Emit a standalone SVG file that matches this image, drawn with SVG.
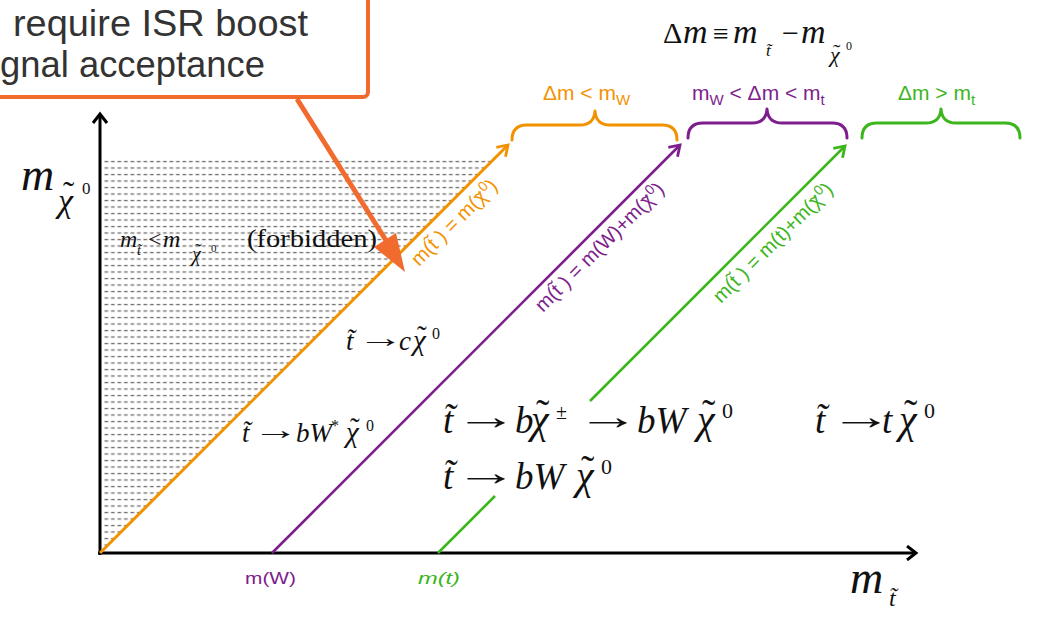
<svg xmlns="http://www.w3.org/2000/svg" width="1039" height="626" viewBox="0 0 1039 626">
<style>
.m{font-family:"Liberation Serif","DejaVu Serif",serif;font-style:italic;fill:#111}
.u{font-family:"Liberation Serif","DejaVu Serif",serif;font-style:normal;fill:#111}
.s{font-family:"Liberation Sans",Arial,sans-serif}
.or{fill:#F39200}.pu{fill:#7D1E8C}.gr{fill:#3DB51C}
.brace{fill:none;stroke-width:3;stroke-linecap:round;stroke-linejoin:round}
</style>
<defs>
<pattern id="hatch" width="6.5" height="6.5" patternUnits="userSpaceOnUse" x="0" y="160">
<line x1="0.5" y1="1.5" x2="4.2" y2="1.5" stroke="#6a6a6a" stroke-width="1.3"/>
</pattern>
<marker id="ak" markerWidth="16" markerHeight="16" refX="12" refY="8" orient="auto" markerUnits="userSpaceOnUse"><path d="M3,1 L12,8 L3,15" fill="none" stroke="#000" stroke-width="3"/></marker>
<marker id="ao" markerWidth="16" markerHeight="16" refX="12" refY="8" orient="auto" markerUnits="userSpaceOnUse"><path d="M2,1.5 L12,8 L2,14.5" fill="none" stroke="#F39200" stroke-width="2.8"/></marker>
<marker id="ap" markerWidth="16" markerHeight="16" refX="12" refY="8" orient="auto" markerUnits="userSpaceOnUse"><path d="M2,1.5 L12,8 L2,14.5" fill="none" stroke="#7D1E8C" stroke-width="2.8"/></marker>
<marker id="ag" markerWidth="16" markerHeight="16" refX="12" refY="8" orient="auto" markerUnits="userSpaceOnUse"><path d="M2,1.5 L12,8 L2,14.5" fill="none" stroke="#3DB51C" stroke-width="2.8"/></marker>
</defs>
<rect width="1039" height="626" fill="#fff"/>

<g id="forbidden-region">
<polygon points="104,159 494,159 104,549" fill="url(#hatch)"/>
</g>

<g id="connectors">
<line x1="100" y1="555" x2="100" y2="114" stroke="#000" stroke-width="3" marker-end="url(#ak)"/>
<line x1="98" y1="553" x2="916" y2="553" stroke="#000" stroke-width="3" marker-end="url(#ak)"/>
<line x1="100" y1="553" x2="508" y2="145" stroke="#F39200" stroke-width="3" marker-end="url(#ao)"/>
<line x1="272" y1="553" x2="680" y2="145" stroke="#7D1E8C" stroke-width="2.6" marker-end="url(#ap)"/>
<line x1="438" y1="553" x2="495" y2="496" stroke="#3DB51C" stroke-width="2.6"/>
<line x1="590" y1="401" x2="845" y2="146" stroke="#3DB51C" stroke-width="2.6" marker-end="url(#ag)"/>
</g>

<g id="y-label">
<text class="m" font-size="46"><tspan x="21" y="190">m</tspan><tspan x="58" y="212" font-size="34">χ</tspan><tspan class="u" x="63" y="205" font-size="34">˜</tspan><tspan class="u" x="82" y="194" font-size="17">0</tspan></text>
</g>

<g id="x-label">
<text class="m" font-size="46"><tspan x="850" y="593">m</tspan><tspan x="889" y="606" font-size="24">t̃</tspan></text>
</g>

<g id="forbidden-label">
<text class="m" font-size="24"><tspan x="120" y="247">m</tspan><tspan x="137" y="255" font-size="14">t̃</tspan><tspan class="u" x="148" y="247">&lt;</tspan><tspan x="163" y="247">m</tspan><tspan x="192" y="261" font-size="20">χ</tspan><tspan class="u" x="195" y="258" font-size="20">˜</tspan><tspan class="u" x="211" y="252" font-size="11">0</tspan></text>
<text class="u" x="247" y="247" font-size="25" textLength="130" lengthAdjust="spacingAndGlyphs">(forbidden)</text>
</g>

<g id="title">
<text class="m" font-size="34"><tspan class="u" x="663" y="43" font-size="30">Δ</tspan><tspan x="683" y="43">m</tspan><tspan class="u" x="713" y="43" font-size="28">≡</tspan><tspan x="733" y="43">m</tspan><tspan x="766" y="56" font-size="17">t̃</tspan><tspan class="u" x="782" y="43" font-size="30">−</tspan><tspan x="801" y="43">m</tspan><tspan x="830" y="62" font-size="22">χ</tspan><tspan class="u" x="833" y="59" font-size="22">˜</tspan><tspan class="u" x="846" y="50" font-size="12">0</tspan></text>
</g>

<g id="brace-orange">
<path class="brace" stroke="#F39200" d="M512,140 Q512,125 527,125 L580,125 Q594,125 595,111 Q596,125 610,125 L662,125 Q677,125 677,140"/>
<text class="s or" x="543" y="100" font-size="21">Δm &lt; m<tspan font-size="15" dy="5">W</tspan></text>
</g>
<g id="brace-purple">
<path class="brace" stroke="#7D1E8C" d="M688,138 Q688,123 703,123 L752,123 Q766,123 767,109 Q768,123 782,123 L832,123 Q847,123 847,138"/>
<text class="s pu" x="692" y="100" font-size="21">m<tspan font-size="15" dy="5">W</tspan><tspan dy="-5"> &lt; Δm &lt; m</tspan><tspan font-size="15" dy="5">t</tspan></text>
</g>
<g id="brace-green">
<path class="brace" stroke="#3DB51C" d="M862,138 Q862,123 877,123 L926,123 Q940,123 941,109 Q942,123 956,123 L1005,123 Q1020,123 1020,138"/>
<text class="s gr" x="898" y="100" font-size="21">Δm &gt; m<tspan font-size="15" dy="5">t</tspan></text>
</g>

<g id="label-orange">
<text class="s or" font-size="20" transform="translate(419,267) rotate(-45)">m(t̃ ) = m(<tspan>χ</tspan><tspan dx="-8.6" dy="3">˜</tspan><tspan font-size="14" dx="2.5" dy="-10">0</tspan><tspan dy="7">)</tspan></text>
</g>
<g id="label-purple">
<text class="s pu" font-size="20" transform="translate(543,313) rotate(-45)">m(t̃ ) = m(W)+m(<tspan>χ</tspan><tspan dx="-8.6" dy="3">˜</tspan><tspan font-size="14" dx="2.5" dy="-10">0</tspan><tspan dy="7">)</tspan></text>
</g>
<g id="label-green">
<text class="s gr" font-size="20" transform="translate(721,304) rotate(-45)">m(t̃ ) = m(t)+m(<tspan>χ</tspan><tspan dx="-8.6" dy="3">˜</tspan><tspan font-size="14" dx="2.5" dy="-10">0</tspan><tspan dy="7">)</tspan></text>
</g>

<g id="decay-c">
<text class="m" x="346" y="350" font-size="27">t̃</text>
<text class="u" font-size="27" transform="translate(358,347) scale(1.7,1)">→</text>
<text class="m" font-size="29"><tspan x="399" y="350" font-size="27">c</tspan><tspan x="413" y="350">χ</tspan><tspan class="u" x="417" y="346">˜</tspan><tspan class="u" x="432" y="339" font-size="16">0</tspan></text>
</g>
<g id="decay-bWstar">
<text class="m" x="242" y="442" font-size="27">t̃</text>
<text class="u" font-size="27" transform="translate(253,439) scale(1.7,1)">→</text>
<text class="m" font-size="27"><tspan x="296" y="442">bW</tspan><tspan class="u" x="331" y="431" font-size="16">*</tspan><tspan x="346" y="442" font-size="29">χ</tspan><tspan class="u" x="350" y="438" font-size="29">˜</tspan><tspan class="u" x="366" y="431" font-size="16">0</tspan></text>
</g>
<g id="decay-chargino">
<text class="m" x="443" y="433" font-size="37">t̃</text>
<text class="u" font-size="37" transform="translate(455,429) scale(1.7,1)">→</text>
<text class="m" font-size="37"><tspan x="515" y="433">b</tspan><tspan x="531" y="433" font-size="40">χ</tspan><tspan class="u" x="536" y="427" font-size="40">˜</tspan><tspan class="u" x="556" y="419" font-size="20">±</tspan></text>
<text class="u" font-size="37" transform="translate(577,429) scale(1.7,1)">→</text>
<text class="m" font-size="37"><tspan x="637" y="433">bW</tspan><tspan x="697" y="433" font-size="40">χ</tspan><tspan class="u" x="702" y="427" font-size="40">˜</tspan><tspan class="u" x="722" y="418" font-size="22">0</tspan></text>
</g>
<g id="decay-bW">
<text class="m" x="443" y="489" font-size="37">t̃</text>
<text class="u" font-size="37" transform="translate(455,485) scale(1.7,1)">→</text>
<text class="m" font-size="37"><tspan x="515" y="489">bW</tspan><tspan x="576" y="489" font-size="40">χ</tspan><tspan class="u" x="581" y="483" font-size="40">˜</tspan><tspan class="u" x="601" y="474" font-size="22">0</tspan></text>
</g>
<g id="decay-t">
<text class="m" x="815" y="433" font-size="37">t̃</text>
<text class="u" font-size="37" transform="translate(830,429) scale(1.7,1)">→</text>
<text class="m" font-size="37"><tspan x="882" y="433">t</tspan><tspan x="899" y="433" font-size="40">χ</tspan><tspan class="u" x="904" y="427" font-size="40">˜</tspan><tspan class="u" x="924" y="418" font-size="22">0</tspan></text>
</g>

<g id="tick-mW">
<text class="s pu" x="245" y="584" font-size="17" textLength="51" lengthAdjust="spacingAndGlyphs">m(W)</text>
</g>
<g id="tick-mt">
<text class="s gr" x="418" y="584" font-size="17" font-style="italic" textLength="42" lengthAdjust="spacingAndGlyphs">m(t)</text>
</g>

<g id="callout">
<rect x="-20" y="-20" width="388" height="117" rx="5" fill="#fff" stroke="#F26B2E" stroke-width="4"/>
<text class="s" x="13" y="36" font-size="36" fill="#333" textLength="295" lengthAdjust="spacingAndGlyphs">require ISR boost</text>
<text class="s" x="0" y="77" font-size="36" fill="#333" textLength="265" lengthAdjust="spacingAndGlyphs">gnal acceptance</text>
<line x1="297" y1="99" x2="387" y2="242" stroke="#F26B2E" stroke-width="5"/>
<polygon points="374,247 396,233 405,272" fill="#F26B2E"/>
</g>
</svg>
